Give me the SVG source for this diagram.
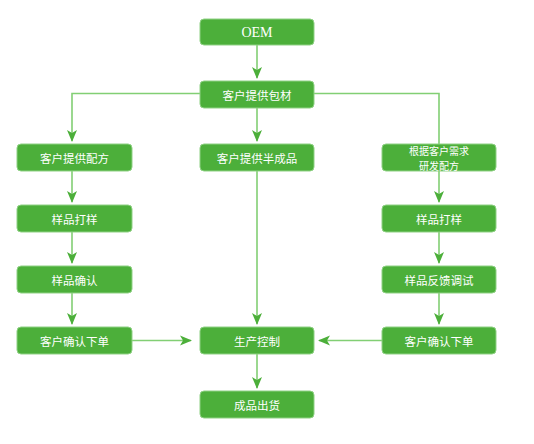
<svg xmlns="http://www.w3.org/2000/svg" width="534" height="444" viewBox="0 0 534 444">
<style>
.box{fill:#4caf3a;stroke:#8fd184;stroke-width:1}
.t{fill:#fff;font-family:"Noto Sans CJK SC","Noto Sans",sans-serif;font-size:11.5px;text-anchor:middle;dominant-baseline:central}
.s{font-size:10px}
.oem{fill:#fff;font-family:"Liberation Serif",serif;font-size:14px;text-anchor:middle;dominant-baseline:central}
.ln{fill:none;stroke:#82cf74;stroke-width:1.6}
</style>
<defs>
<marker id="ah" viewBox="0 0 12 12" refX="11" refY="6" markerWidth="12" markerHeight="12" markerUnits="userSpaceOnUse" orient="auto">
<path d="M0,1 L12,6 L0,11 L3,6 Z" fill="#4caf3a"/>
</marker>
</defs>
<rect width="534" height="444" fill="#fff"/>
<g id="connectors">
<path class="ln" d="M257,45 V78" marker-end="url(#ah)"/>
<path class="ln" d="M200,93.5 H72 V141" marker-end="url(#ah)"/>
<path class="ln" d="M314,93.5 H439 V144"/>
<path class="ln" d="M257,108 V141" marker-end="url(#ah)"/>
<path class="ln" d="M257,171 V324" marker-end="url(#ah)"/>
<path class="ln" d="M72,171 V202" marker-end="url(#ah)"/>
<path class="ln" d="M72,232 V263" marker-end="url(#ah)"/>
<path class="ln" d="M72,293 V324" marker-end="url(#ah)"/>
<path class="ln" d="M439,171 V202" marker-end="url(#ah)"/>
<path class="ln" d="M439,232 V263" marker-end="url(#ah)"/>
<path class="ln" d="M439,293 V324" marker-end="url(#ah)"/>
<path class="ln" d="M132,340.5 H191" marker-end="url(#ah)"/>
<path class="ln" d="M382,340.5 H319" marker-end="url(#ah)"/>
<path class="ln" d="M257,353 V388" marker-end="url(#ah)"/>
</g>
<g id="oem"><rect class="box" x="200" y="19" width="114" height="26" rx="4"/><text class="oem" x="257" y="32.5">OEM</text></g>
<g id="baocai"><rect class="box" x="200" y="81" width="114" height="27" rx="4"/><text class="t" x="257" y="94.5">客户提供包材</text></g>
<g id="peifang"><rect class="box" x="17" y="144" width="115" height="27" rx="4"/><text class="t" x="74.5" y="157.5">客户提供配方</text></g>
<g id="banchengpin"><rect class="box" x="200" y="144" width="114" height="27" rx="4"/><text class="t" x="257" y="157.5">客户提供半成品</text></g>
<g id="yanfa"><rect class="box" x="382" y="144" width="114" height="27" rx="4"/><text class="t s" x="439" y="150.3">根据客户需求</text><text class="t s" x="439" y="165">研发配方</text></g>
<g id="dayang-l"><rect class="box" x="17" y="205" width="115" height="27" rx="4"/><text class="t" x="74.5" y="218.5">样品打样</text></g>
<g id="dayang-r"><rect class="box" x="382" y="205" width="114" height="27" rx="4"/><text class="t" x="439" y="218.5">样品打样</text></g>
<g id="queren"><rect class="box" x="17" y="266" width="115" height="27" rx="4"/><text class="t" x="74.5" y="279.5">样品确认</text></g>
<g id="fankui"><rect class="box" x="382" y="266" width="114" height="27" rx="4"/><text class="t" x="439" y="279.5">样品反馈调试</text></g>
<g id="xiadan-l"><rect class="box" x="17" y="327" width="115" height="27" rx="4"/><text class="t" x="74.5" y="340.5">客户确认下单</text></g>
<g id="shengchan"><rect class="box" x="200" y="327" width="114" height="27" rx="4"/><text class="t" x="257" y="340.5">生产控制</text></g>
<g id="xiadan-r"><rect class="box" x="382" y="327" width="114" height="27" rx="4"/><text class="t" x="439" y="340.5">客户确认下单</text></g>
<g id="chuhuo"><rect class="box" x="200" y="391" width="114" height="27" rx="4"/><text class="t" x="257" y="404.5">成品出货</text></g>
</svg>
